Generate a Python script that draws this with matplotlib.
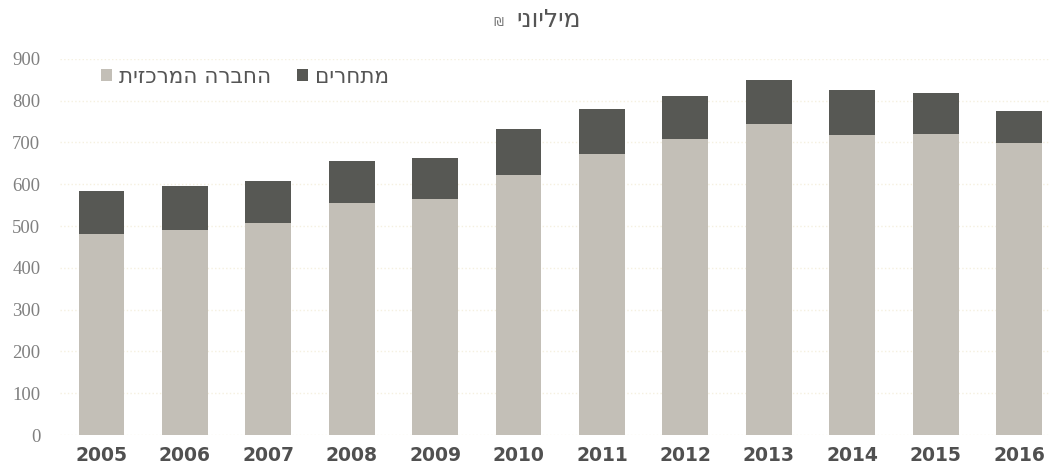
import matplotlib.pyplot as plt
import numpy as np

# נתונים במיליוני ש"ח
years = ["2005", "2006", "2007", "2008", "2009", "2010",
         "2011", "2012", "2013", "2014", "2015", "2016"]
central = [480, 490, 508, 555, 565, 623, 672, 707, 743, 718, 719, 698]
competitors = [105, 105, 99, 100, 98, 110, 108, 103, 107, 107, 98, 77]

title = "מיליוני"
shekel = "₪"
lbl_central = "החברה המרכזית"
lbl_comp = "מתחרים"


def rtl(s):
    # matplotlib has no bidi support, flip hebrew by hand
    return s[::-1]


plt.rcParams["font.family"] = ["DejaVu Sans"]

fig = plt.figure(figsize=(10.49, 4.74), dpi=100)
ax = fig.add_axes([0.057, 0.082, 0.943, 0.794])

x = np.arange(len(years))
b1 = ax.bar(x, central, width=0.55, color="#c3bfb7", label=rtl(lbl_central))
b2 = ax.bar(x, competitors, width=0.55, bottom=central, color="#575854",
            label=rtl(lbl_comp))

ax.set_ylim(0, 900)
ax.set_xlim(-0.5, 11.36)
ax.set_yticks(range(0, 901, 100))
ax.set_xticks(x)
ax.set_xticklabels(years, fontsize=13.5, fontweight="bold", color="#505050")
ax.tick_params(axis="y", labelsize=13.5, labelcolor="#808080", length=0, pad=14)
for t in ax.get_yticklabels():
    t.set_family("Liberation Serif")
ax.tick_params(axis="x", length=0, pad=8)
for s in ax.spines.values():
    s.set_visible(False)
ax.yaxis.grid(True, color="#f5f0e0", linestyle=":", linewidth=1)
ax.set_axisbelow(True)

# title: hebrew word plus a small shekel sign on its left
fig.text(0.523, 0.958, rtl(title), ha="center", va="center",
         fontsize=18, color="#555555")
fig.text(0.475, 0.952, shekel, ha="center", va="center",
         fontsize=9, color="#777777")

ax.legend(handles=[b1, b2], ncol=2, frameon=False, loc="upper left",
          bbox_to_anchor=(0.022, 1.03), fontsize=15.5, labelcolor="#555555",
          handlelength=0.5, handleheight=0.5, handletextpad=0.35,
          columnspacing=1.2)

fig.savefig("out.png", dpi=100)
